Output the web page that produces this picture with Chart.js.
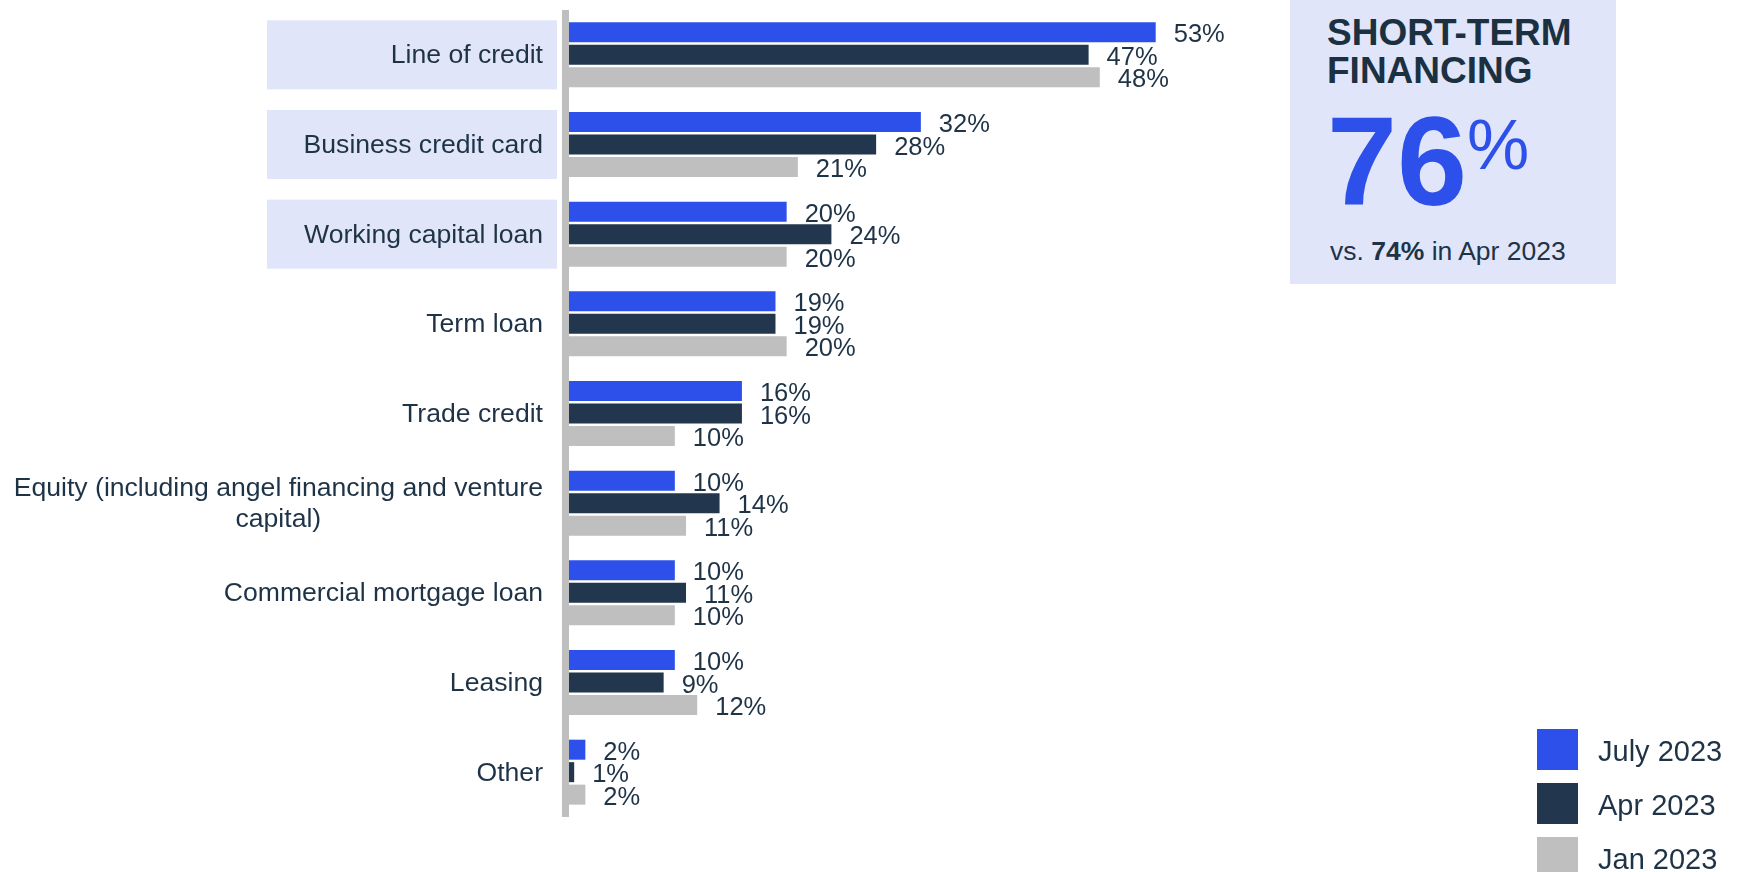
<!DOCTYPE html>
<html>
<head>
<meta charset="utf-8">
<script src="https://cdn.jsdelivr.net/npm/chart.js@4.4.1/dist/chart.umd.min.js"></script>
<style>
    html, body { margin: 0; padding: 0; background: #fff; }
    body { font-family: 'Liberation Sans', Arial, sans-serif; color: #1f3347; }
    #wrap { position: relative; width: 1741px; height: 872px; overflow: hidden; }
    #chart { position: absolute; left: 0; top: 0; }
    .kpi { position: absolute; left: 1290px; top: 0; width: 326px; height: 284px; background: #e0e5fa; }
    .kpi div { position: absolute; white-space: nowrap; }
    .kpi .title { left: 37px; top: 14px; font-size: 37px; line-height: 38px; font-weight: bold; color: #1b3142; }
    .kpi .big { left: 37px; top: 99px; font-size: 126px; line-height: 126px; font-weight: bold; color: #2d50eb; }
    .kpi .pct { left: 177px; top: 110px; font-size: 70px; line-height: 70px; color: #2d50eb; }
    .kpi .vs { left: 40px; top: 238px; font-size: 26.5px; line-height: 26px; color: #1f3347; }
    #legend { position: absolute; left: 1537px; top: 729px; }
    .item { display: flex; align-items: center; height: 41px; margin-bottom: 13px; }
    .swatch { width: 41px; height: 41px; margin-right: 20px; }
    .item span { font-size: 29px; color: #1f3347; position: relative; top: 2px; }
</style>
</head>
<body>
<div id="wrap">
    <canvas id="chart" width="1741" height="872"></canvas>
    <div class="kpi">
        <div class="title">SHORT-TERM<br>FINANCING</div>
        <div class="big">76</div>
        <div class="pct">%</div>
        <div class="vs">vs. <b>74%</b> in Apr 2023</div>
    </div>
    <div id="legend"></div>
</div>
<script>
const categories = [
    'Line of credit',
    'Business credit card',
    'Working capital loan',
    'Term loan',
    'Trade credit',
    ['Equity (including angel financing and venture', 'capital)'],
    'Commercial mortgage loan',
    'Leasing',
    'Other'
];
const seriesNames = ['July 2023', 'Apr 2023', 'Jan 2023'];
const july2023 = [53, 32, 20, 19, 16, 10, 10, 10, 2];
const apr2023 = [47, 28, 24, 19, 16, 14, 11, 9, 1];
const jan2023 = [48, 21, 20, 20, 10, 11, 10, 12, 2];
// rows counted as short-term financing get the tinted label band
const shortTermRows = [0, 1, 2];

const COLORS = ['#2d50eb', '#22374d', '#bfbfbf'];
const FONT = "'Liberation Sans', Arial, sans-serif";
const TEXT = '#1f3347';

// tinted boxes behind the short-term category labels
const labelBands = {
    id: 'labelBands',
    beforeDatasetsDraw(chart) {
        const { ctx } = chart;
        const y = chart.scales.y;
        ctx.save();
        ctx.fillStyle = '#e0e5fa';
        shortTermRows.forEach(i => {
            const cy = y.getPixelForValue(i);
            ctx.fillRect(267, cy - 34.5, 290, 69);
        });
        ctx.restore();
    }
};

// category names, right aligned; wrapped lines centred on each other
const categoryLabels = {
    id: 'categoryLabels',
    afterDatasetsDraw(chart) {
        const { ctx } = chart;
        const y = chart.scales.y;
        const right = 543;
        const lineH = 31;
        ctx.save();
        ctx.font = `26.6px ${FONT}`;
        ctx.fillStyle = TEXT;
        ctx.textBaseline = 'middle';
        ctx.textAlign = 'center';
        categories.forEach((label, i) => {
            const lines = Array.isArray(label) ? label : [label];
            const maxW = Math.max(...lines.map(l => ctx.measureText(l).width));
            const cx = right - maxW / 2;
            const cy = y.getPixelForValue(i) + 1;
            const y0 = cy - (lines.length - 1) * lineH / 2;
            lines.forEach((l, k) => ctx.fillText(l, cx, y0 + k * lineH));
        });
        ctx.restore();
    }
};

// grey axis line drawn over the bar bases
const axisLine = {
    id: 'axisLine',
    afterDatasetsDraw(chart) {
        const { ctx, chartArea } = chart;
        ctx.save();
        ctx.fillStyle = '#bfbfbf';
        ctx.fillRect(chartArea.left - 1, chartArea.top, 7, chartArea.bottom - chartArea.top);
        ctx.restore();
    }
};

// percentage at the end of every bar
const valueLabels = {
    id: 'valueLabels',
    afterDatasetsDraw(chart) {
        const { ctx } = chart;
        ctx.save();
        ctx.font = `25.5px ${FONT}`;
        ctx.fillStyle = TEXT;
        ctx.textBaseline = 'middle';
        ctx.textAlign = 'left';
        chart.data.datasets.forEach((ds, di) => {
            chart.getDatasetMeta(di).data.forEach((bar, i) => {
                ctx.fillText(`${ds.data[i]}%`, bar.x + 18, bar.y + 3);
            });
        });
        ctx.restore();
    }
};

const chart = new Chart(document.getElementById('chart'), {
    type: 'bar',
    data: {
        labels: categories,
        datasets: [july2023, apr2023, jan2023].map((d, i) => ({
            label: seriesNames[i],
            data: d,
            backgroundColor: COLORS[i],
            categoryPercentage: 0.752,
            barPercentage: 0.89
        }))
    },
    options: {
        indexAxis: 'y',
        responsive: false,
        animation: false,
        layout: { padding: { top: 10, bottom: 55, left: 0, right: 507 } },
        plugins: {
            legend: { display: false },
            tooltip: { enabled: false }
        },
        scales: {
            x: {
                display: false,
                min: 0,
                max: 60
            },
            y: {
                grid: { display: false },
                border: { display: false },
                ticks: { display: false },
                afterFit(scale) { scale.width = 563; }
            }
        }
    },
    plugins: [labelBands, categoryLabels, axisLine, valueLabels]
});

// legend built from the same series
const legend = document.getElementById('legend');
seriesNames.forEach((name, i) => {
    const item = document.createElement('div');
    item.className = 'item';
    item.innerHTML = `<div class="swatch" style="background:${COLORS[i]}"></div><span>${name}</span>`;
    legend.appendChild(item);
});
</script>
</body>
</html>
